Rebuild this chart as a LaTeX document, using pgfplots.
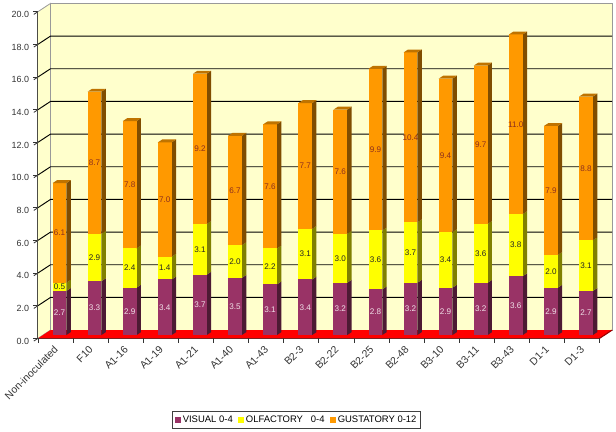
\documentclass[border=0pt]{standalone}
\usepackage{fontspec}
\setmainfont{Liberation Sans}
\usepackage{pgfplots}
\pgfplotsset{compat=1.18}

\definecolor{wall}{HTML}{FFFFCC}
\definecolor{grid}{HTML}{4A4A38}
\definecolor{visual}{HTML}{993366}
\definecolor{visualdk}{HTML}{4D1A33}
\definecolor{olf}{HTML}{FFFF00}
\definecolor{olfdk}{HTML}{808000}
\definecolor{gust}{HTML}{FF9900}
\definecolor{gustdk}{HTML}{804D00}
\definecolor{gusttop}{HTML}{BF7300}
\definecolor{gusttxt}{HTML}{8C2F1F}

% one bar: position, three stacked values
\newcommand{\stackbar}[4]{%
  \pgfmathsetmacro\xa{#1+0.47-0.196}%
  \pgfmathsetmacro\xb{#1+0.47+0.196}%
  \pgfmathsetmacro\xm{#1+0.47}%
  \pgfmathsetmacro\za{#2}%
  \pgfmathsetmacro\zb{#2+#3}%
  \pgfmathsetmacro\zc{#2+#3+#4}%
  \seg{0}{\za}{visual}{visualdk}{#2}{white!85!visual}%
  \seg{\za}{\zb}{olf}{olfdk}{#3}{black!85}%
  \seg{\zb}{\zc}{gust}{gustdk}{#4}{gusttxt}%
  \edef\tmp{\noexpand\addplot3[fill=gusttop,draw=none,forget plot] coordinates
    {(\xa,0.4,\zc) (\xb,0.4,\zc) (\xb,0.75,\zc) (\xa,0.75,\zc)};}\tmp
}
\newcommand{\seg}[6]{%
  \pgfmathsetmacro\zm{(#1+#2)/2}%
  \edef\tmp{\noexpand\addplot3[fill=#4,draw=none,forget plot] coordinates
    {(\xb,0.4,#1) (\xb,0.75,#1) (\xb,0.75,#2) (\xb,0.4,#2)};
    \noexpand\addplot3[fill=#3,draw=none,forget plot] coordinates
    {(\xa,0.4,#1) (\xb,0.4,#1) (\xb,0.4,#2) (\xa,0.4,#2)};
    \noexpand\node[text=#6,font=\noexpand\fontsize{6.1pt}{6.5pt}\noexpand\selectfont,inner sep=0pt]
      at (axis cs:\xm,0.4,\zm) {\pgfmathprintnumber[fixed,fixed zerofill,precision=1]{#5}};}\tmp
}

\begin{document}
\begin{tikzpicture}
\path[use as bounding box] (-28.5pt,-69.5pt) rectangle (433.5pt,253.75pt);
\begin{axis}[
  at={(0pt,0pt)},
  x={(26.325pt,0pt)}, y={(9.4pt,6.2pt)}, z={(0pt,12.25pt)},
  xmin=0, xmax=16, ymin=0, ymax=1, zmin=0, zmax=20,
  clip=false,
  axis x line*=bottom, axis z line*=left, axis y line=none,
  xtick={0,...,16},
  x tick label as interval,
  x tick style={draw=none},
  xticklabels={Non-inoculated,F10,A1-16,A1-19,A1-21,A1-40,A1-43,B2-3,B2-22,B2-25,B2-48,B3-10,B3-11,B3-43,D1-1,D1-3},
  xticklabel style={rotate=45,anchor=north east,inner sep=1pt,yshift=-2pt,font=\fontsize{7.8pt}{9pt}\selectfont,text=black!80},
  ztick={0,2,...,20},
  zticklabel style={anchor=east,font=\fontsize{6.7pt}{8pt}\selectfont,text=black!80},
  /pgf/number format/assume math mode=true,
  zticklabel={\pgfmathprintnumber[fixed,fixed zerofill,precision=1]{\tick}},
  tick align=outside, major tick length=3.75pt,
  tick style={black!80,line width=0.6pt},
  axis line style={black!80,line width=0.9pt},
  legend style={at={(axis description cs:0,0)},anchor=north west,xshift=100.5pt,yshift=-54.3pt,
    legend columns=3,font=\fontsize{7.1pt}{8pt}\selectfont,draw=black!75,line width=0.8pt,
    inner sep=2pt,nodes={inner sep=1.2pt},
    /tikz/every even column/.append style={column sep=3pt}},
  legend image code/.code={\fill[#1,draw=none] (0pt,-2.25pt) rectangle (4.5pt,2.25pt);},
]
% walls and floor
\addplot3[fill=wall,draw=black!40,line width=0.6pt,forget plot] coordinates {(0,1,0) (16,1,0) (16,1,20) (0,1,20)};
\addplot3[fill=wall,draw=black!40,line width=0.6pt,forget plot] coordinates {(0,0,0) (0,1,0) (0,1,20) (0,0,20)};
\addplot3[fill=red,draw=none,forget plot] coordinates {(0,0,0) (16,0,0) (16,1,0) (0,1,0)};
% grid
\pgfplotsinvokeforeach{2,4,...,18}{
  \addplot3[grid,line width=0.7pt,forget plot] coordinates {(0,0,#1) (0,1,#1) (16,1,#1)};
}
\addplot3[red!60!black,line width=0.8pt,forget plot] coordinates {(16,0,0) (16,1,0)};
% x ticks go straight down
\pgfplotsinvokeforeach{0,...,16}{
  \addplot3[black!80,line width=0.6pt,forget plot] coordinates {(#1,0,0) (#1,0,-0.31)};
}

\stackbar{0}{2.7}{0.5}{6.1}
\stackbar{1}{3.3}{2.9}{8.7}
\stackbar{2}{2.9}{2.4}{7.8}
\stackbar{3}{3.4}{1.4}{7.0}
\stackbar{4}{3.7}{3.1}{9.2}
\stackbar{5}{3.5}{2.0}{6.7}
\stackbar{6}{3.1}{2.2}{7.6}
\stackbar{7}{3.4}{3.1}{7.7}
\stackbar{8}{3.2}{3.0}{7.6}
\stackbar{9}{2.8}{3.6}{9.9}
\stackbar{10}{3.2}{3.7}{10.4}
\stackbar{11}{2.9}{3.4}{9.4}
\stackbar{12}{3.2}{3.6}{9.7}
\stackbar{13}{3.6}{3.8}{11.0}
\stackbar{14}{2.9}{2.0}{7.9}
\stackbar{15}{2.7}{3.1}{8.8}

\addlegendimage{visual}
\addlegendentry{VISUAL 0-4}
\addlegendimage{olf}
\addlegendentry{OLFACTORY\ \ \ 0-4}
\addlegendimage{gust}
\addlegendentry{GUSTATORY 0-12}
\end{axis}
\end{tikzpicture}
\end{document}
